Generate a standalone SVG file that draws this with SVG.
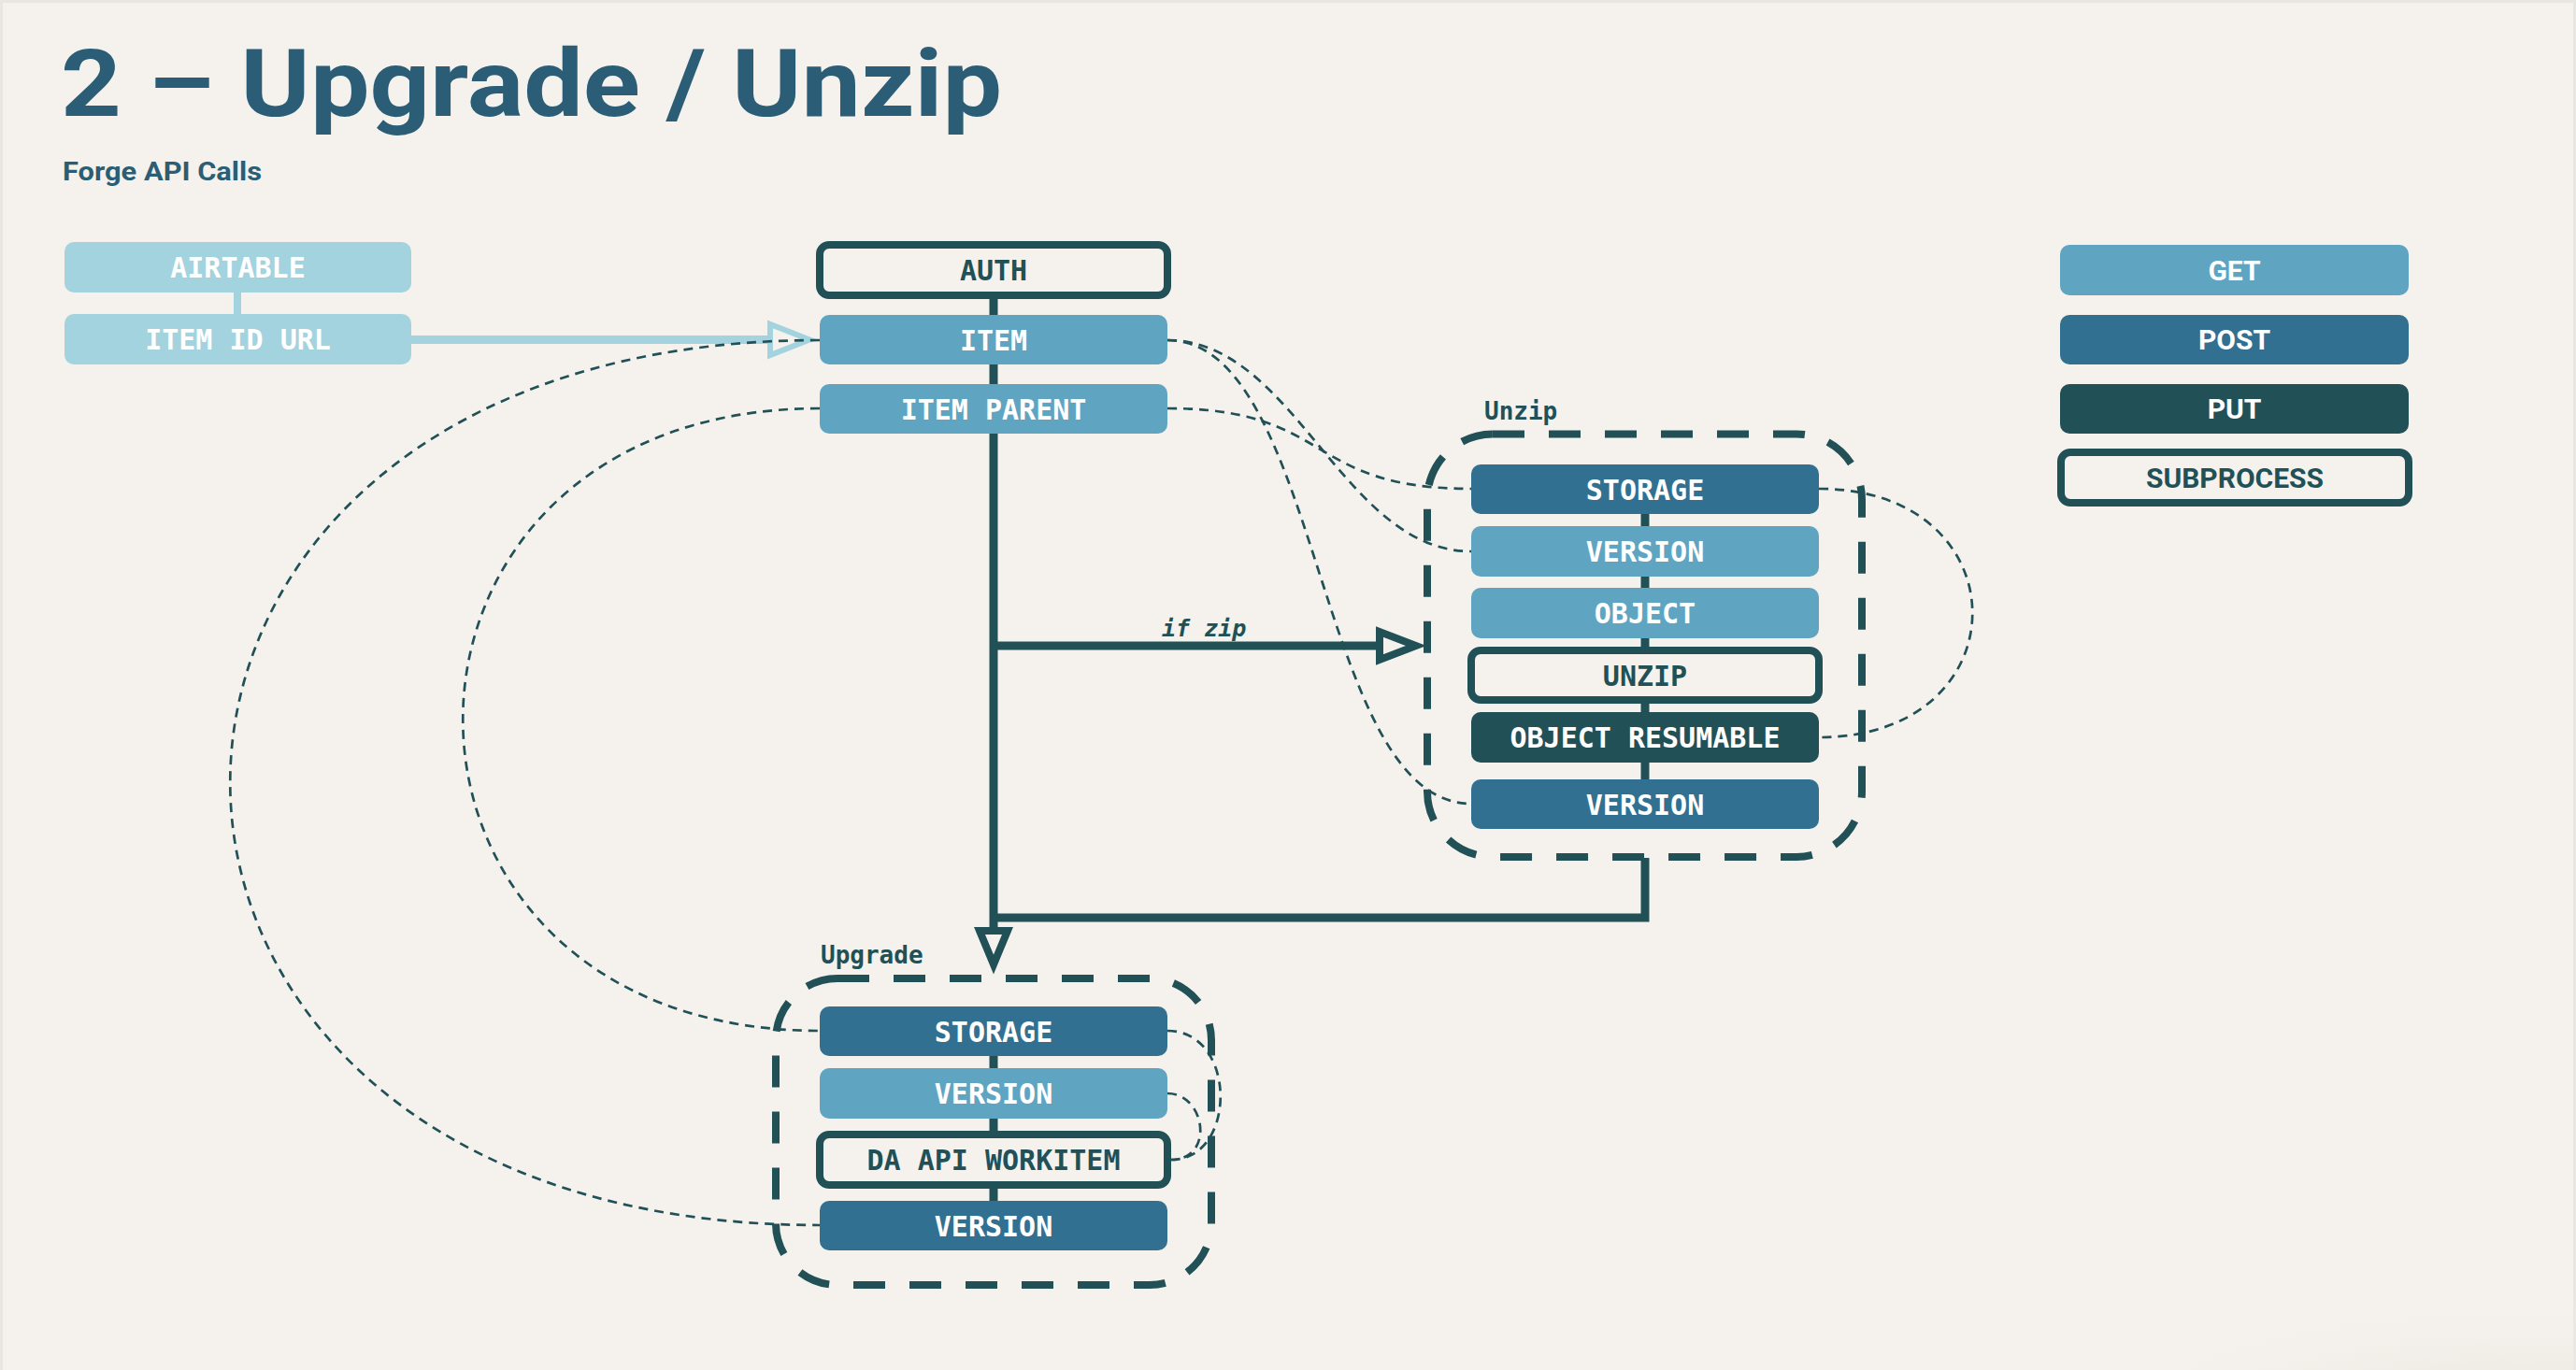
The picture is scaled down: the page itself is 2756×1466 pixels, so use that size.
<svg xmlns="http://www.w3.org/2000/svg" width="2756" height="1466" viewBox="0 0 2756 1466">
<defs>
<style>
.get{fill:#5fa5c2}
.post{fill:#327091}
.put{fill:#215057}
.air{fill:#a3d3de}
.sub{fill:#f5f2ed;stroke:#215057;stroke-width:8}
.lbl{font-family:"DejaVu Sans Mono","Liberation Mono",monospace;font-weight:bold;font-size:30px;fill:#ffffff;text-anchor:middle}
.leg{font-family:Roboto,"Liberation Sans",sans-serif;font-weight:bold;font-size:30px;fill:#ffffff;text-anchor:middle}
.lbl.dark,.leg.dark{fill:#215057}
.grp{fill:none;stroke:#215057;stroke-width:8;stroke-dasharray:34 26}
.grplbl{font-family:"DejaVu Sans Mono","Liberation Mono",monospace;font-weight:bold;font-size:26px;fill:#215057}
.thin{fill:none;stroke:#215057;stroke-width:2.7;stroke-dasharray:10 7}
.flow{fill:none;stroke:#215057;stroke-width:9;stroke-linejoin:miter}
.head{fill:#f5f2ed;stroke:#215057;stroke-width:8;stroke-linejoin:miter}
</style>
<radialGradient id="shade" cx="0.5" cy="0.5" r="0.5">
<stop offset="0" stop-color="#e4e1da" stop-opacity="1"/>
<stop offset="1" stop-color="#f5f2ed" stop-opacity="0"/>
</radialGradient>
</defs>
<rect x="0" y="0" width="2756" height="1466" fill="#e8e6e1"/>
<rect x="3" y="3" width="2750" height="1466" fill="#f5f2ed"/>
<ellipse cx="2700" cy="1530" rx="520" ry="150" fill="url(#shade)"/>

<g id="title">
<text x="65" y="124" font-family="Roboto, 'Liberation Sans', sans-serif" font-weight="bold" font-size="100" fill="#2b5e76" textLength="1007" lengthAdjust="spacingAndGlyphs">2 – Upgrade / Unzip</text>
<text x="67" y="193" font-family="Roboto, 'Liberation Sans', sans-serif" font-weight="bold" font-size="27" fill="#2b5e76" textLength="213" lengthAdjust="spacingAndGlyphs">Forge API Calls</text>
</g>

<g id="connectors">
<line x1="254" y1="312" x2="254" y2="338" stroke="#a3d3de" stroke-width="8"/>
<line x1="440" y1="363.5" x2="826" y2="363.5" stroke="#a3d3de" stroke-width="9"/>
<polygon points="824,347 824,380 866,363.5" fill="#f5f2ed" stroke="#a3d3de" stroke-width="6"/>
<line class="flow" x1="1063" y1="316" x2="1063" y2="997"/>
<line class="flow" x1="1063" y1="691" x2="1478" y2="691"/>
<polygon class="head" points="1476,676 1476,706 1515,691"/>
<path class="flow" d="M1760,918 V982 H1063"/>
<polygon class="head" points="1048,996 1078,996 1063,1032"/>
<line class="flow" x1="1760" y1="548" x2="1760" y2="836" stroke-width="8.5"/>
<line class="flow" x1="1063" y1="1128" x2="1063" y2="1287" stroke-width="8.5"/>
<path class="thin" d="M1249,364 C1386,364 1436,590 1574,590"/>
<path class="thin" d="M1249,364 C1414,364 1408,860 1574,860"/>
<path class="thin" d="M1249,437 C1428,437 1394,523 1574,523"/>
<path class="thin" d="M1946,523 C2165,523 2165,789 1946,789"/>
<path class="thin" d="M877,364 C36,364 36,1311 877,1311"/>
<path class="thin" d="M877,437 C368,437 368,1103 877,1103"/>
<path class="thin" d="M1249,1103 C1324,1103 1324,1241 1253,1241"/>
<path class="thin" d="M1249,1170 C1290,1170 1300,1241 1253,1241"/>
</g>

<g id="airtable">
<rect class="air" x="69" y="259" width="371" height="54" rx="10"/>
<text class="lbl" x="254.5" y="297">AIRTABLE</text>
</g>
<g id="item-id-url">
<rect class="air" x="69" y="336" width="371" height="54" rx="10"/>
<text class="lbl" x="254.5" y="374">ITEM ID URL</text>
</g>

<g id="auth">
<rect class="sub" x="877" y="262" width="372" height="54" rx="10"/>
<text class="lbl dark" x="1063" y="300">AUTH</text>
</g>
<g id="item">
<rect class="get" x="877" y="337" width="372" height="53" rx="10"/>
<text class="lbl" x="1063" y="375">ITEM</text>
</g>
<g id="item-parent">
<rect class="get" x="877" y="411" width="372" height="53" rx="10"/>
<text class="lbl" x="1063" y="448.5">ITEM PARENT</text>
</g>

<g id="unzip-group">
<rect class="grp" x="1527" y="464.5" width="465" height="452.5" rx="70"/>
<text class="grplbl" x="1588" y="449">Unzip</text>
</g>
<g id="unzip-storage">
<rect class="post" x="1574" y="497" width="372" height="53" rx="10"/>
<text class="lbl" x="1760" y="535">STORAGE</text>
</g>
<g id="unzip-version-get">
<rect class="get" x="1574" y="563" width="372" height="54" rx="10"/>
<text class="lbl" x="1760" y="601">VERSION</text>
</g>
<g id="unzip-object">
<rect class="get" x="1574" y="629" width="372" height="54" rx="10"/>
<text class="lbl" x="1760" y="667">OBJECT</text>
</g>
<g id="unzip-unzip">
<rect class="sub" x="1574" y="696" width="372" height="53" rx="10"/>
<text class="lbl dark" x="1760" y="733.5">UNZIP</text>
</g>
<g id="unzip-object-resumable">
<rect class="put" x="1574" y="762" width="372" height="54" rx="10"/>
<text class="lbl" x="1760" y="800">OBJECT RESUMABLE</text>
</g>
<g id="unzip-version-post">
<rect class="post" x="1574" y="834" width="372" height="53" rx="10"/>
<text class="lbl" x="1760" y="872">VERSION</text>
</g>

<g id="upgrade-group">
<rect class="grp" x="830" y="1047" width="466" height="328" rx="66"/>
<text class="grplbl" x="878" y="1031">Upgrade</text>
</g>
<g id="upgrade-storage">
<rect class="post" x="877" y="1077" width="372" height="53" rx="10"/>
<text class="lbl" x="1063" y="1114.5">STORAGE</text>
</g>
<g id="upgrade-version-get">
<rect class="get" x="877" y="1143" width="372" height="54" rx="10"/>
<text class="lbl" x="1063" y="1181">VERSION</text>
</g>
<g id="upgrade-da-api-workitem">
<rect class="sub" x="877" y="1214" width="372" height="54" rx="10"/>
<text class="lbl dark" x="1063" y="1252">DA API WORKITEM</text>
</g>
<g id="upgrade-version-post">
<rect class="post" x="877" y="1285" width="372" height="53" rx="10"/>
<text class="lbl" x="1063" y="1323">VERSION</text>
</g>

<g id="if-zip-label">
<text x="1243" y="681" font-family="'DejaVu Sans Mono','Liberation Mono',monospace" font-weight="bold" font-style="italic" font-size="25" fill="#215057">if zip</text>
</g>

<g id="legend-get">
<rect class="get" x="2204" y="262" width="373" height="54" rx="10"/>
<text class="leg" x="2390.5" y="300">GET</text>
</g>
<g id="legend-post">
<rect class="post" x="2204" y="337" width="373" height="53" rx="10"/>
<text class="leg" x="2390.5" y="374">POST</text>
</g>
<g id="legend-put">
<rect class="put" x="2204" y="411" width="373" height="53" rx="10"/>
<text class="leg" x="2390.5" y="448">PUT</text>
</g>
<g id="legend-subprocess">
<rect class="sub" x="2205" y="484" width="372" height="54" rx="10"/>
<text class="leg dark" x="2391" y="522">SUBPROCESS</text>
</g>
</svg>
